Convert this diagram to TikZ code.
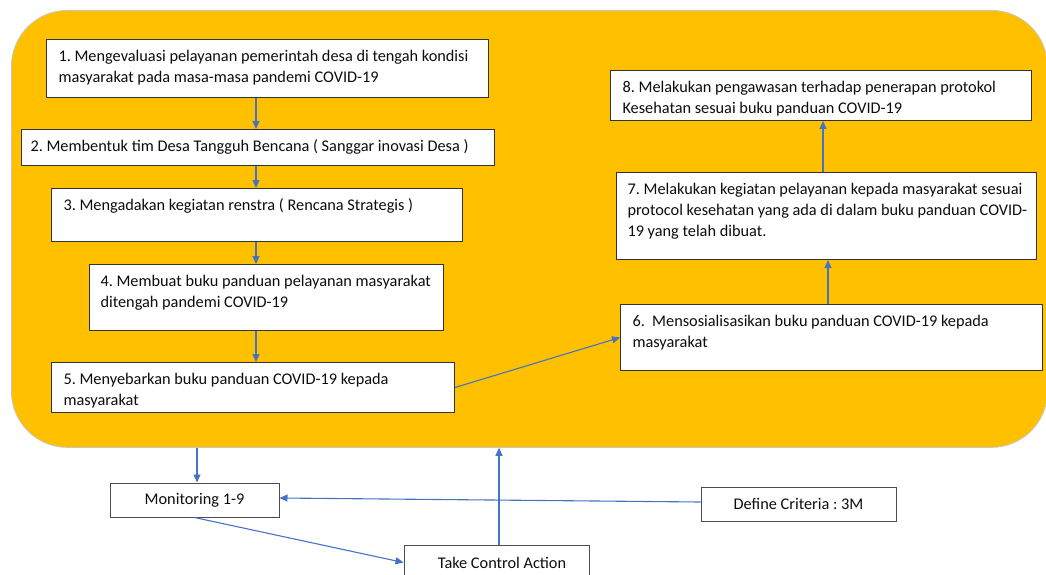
\documentclass[tikz,border=0pt]{standalone}
\usepackage{fontspec}
\setmainfont{Carlito}
\usetikzlibrary{arrows.meta}

\definecolor{panelgold}{HTML}{FFC000}
\definecolor{flowblue}{HTML}{4472C4}

% Text block of a step box: fixed height, text hung from the top,
% lines broken only where \\ is written
\newcommand\steptext[3]{\parbox[c][#1][t]{#2}{\raggedright\frenchspacing\rule{0pt}{22pt}#3}}
\newcommand\txtline[1]{\mbox{#1}}

\begin{document}
\frenchspacing
\begin{tikzpicture}[x=1pt,y=-1pt,
  panel/.style={draw=black!22, line width=0.8pt, fill=panelgold,
    rounded corners=56pt, inner sep=0pt, anchor=north west},
  stepbox/.style={draw=black!80, line width=1pt, fill=white, text=black!95,
    inner xsep=12pt, inner ysep=0pt, anchor=north west,
    font=\fontsize{16.3}{21}\selectfont},
  ctrlbox/.style={draw=black!70, line width=1pt, fill=white, text=black!95,
    inner sep=0pt, font=\fontsize{16.3}{21}\selectfont\frenchspacing},
  flow/.style={draw=flowblue, line width=1.1pt,
    -{Triangle[length=8pt,width=7pt]}}
]
\useasboundingbox (0,0) rectangle (1046,575);
\clip (0,0) rectangle (1046,575);

% gold panel holding steps 1-8
\node[panel, minimum width=1036pt, minimum height=437pt] (panel) at (11,10) {};

% left column
\node[stepbox] (s1) at (46,39) {\steptext{58pt}{418pt}{\txtline{1. Mengevaluasi pelayanan pemerintah desa di tengah kondisi}\\\txtline{masyarakat pada masa-masa pandemi COVID-19}}};
\node[stepbox, inner xsep=9pt] (s2) at (21,129) {\steptext{36pt}{455pt}{\txtline{2. Membentuk tim Desa Tangguh Bencana ( Sanggar inovasi Desa )}}};
\node[stepbox] (s3) at (51,188) {\steptext{53pt}{387pt}{\txtline{3. Mengadakan kegiatan renstra ( Rencana Strategis )}}};
\node[stepbox, inner xsep=11pt] (s4) at (89,264) {\steptext{66pt}{332pt}{\txtline{4. Membuat buku panduan pelayanan masyarakat}\\\txtline{ditengah pandemi COVID-19}}};
\node[stepbox] (s5) at (51,362) {\steptext{50pt}{379pt}{\txtline{5. Menyebarkan buku panduan COVID-19 kepada}\\\txtline{masyarakat}}};

% right column
\node[stepbox] (s6) at (620,304) {\steptext{66pt}{398pt}{\txtline{6.\ \ Mensosialisasikan buku panduan COVID-19 kepada}\\\txtline{masyarakat}}};
\node[stepbox, inner xsep=11pt] (s7) at (616,172) {\steptext{87pt}{398pt}{\txtline{7. Melakukan kegiatan pelayanan kepada masyarakat sesuai}\\\txtline{protocol kesehatan yang ada di dalam buku panduan COVID-}\\\txtline{19 yang telah dibuat.}}};
\node[stepbox] (s8) at (610,70) {\steptext{50pt}{397pt}{\txtline{8. Melakukan pengawasan terhadap penerapan protokol}\\\txtline{Kesehatan sesuai buku panduan COVID-19}}};

% control loop below the panel
\node[ctrlbox, minimum width=169pt, minimum height=34pt] (mon) at (194.5,500) {Monitoring 1-9};
\node[ctrlbox, minimum width=195pt, minimum height=34pt] (crit) at (798.5,504) {Define Criteria : 3M};
\node[ctrlbox, minimum width=185pt, minimum height=35pt] (act) at (496.5,562.5) {\hspace*{11pt}Take Control Action};

% connector columns
\coordinate (cl) at (256,0);
\coordinate (cr6) at (828,0);
\coordinate (cr7) at (823,0);
\coordinate (cmon) at (197,0);
\coordinate (cact) at (499,0);

\draw[flow] (s1.south -| cl) -- (s2.north -| cl);
\draw[flow] (s2.south -| cl) -- (s3.north -| cl);
\draw[flow] (s3.south -| cl) -- (s4.north -| cl);
\draw[flow] (s4.south -| cl) -- (s5.north -| cl);
\draw[flow] (s5.east) -- (s6.west);
\draw[flow] (s6.north -| cr6) -- (s7.south -| cr6);
\draw[flow] (s7.north -| cr7) -- (s8.south -| cr7);

\draw[flow] (panel.south -| cmon) -- (mon.north -| cmon);
\draw[flow] ([yshift=2pt]crit.west) -- ([yshift=2pt]mon.east);
\draw[flow] (mon.south) -- (act.west);
\draw[flow] (act.north -| cact) -- (panel.south -| cact);
\end{tikzpicture}
\end{document}
